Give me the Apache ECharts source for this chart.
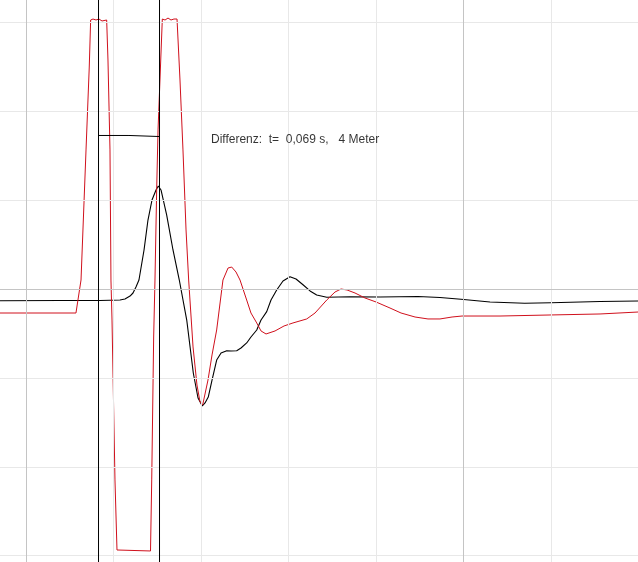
<!DOCTYPE html>
<html>
<head>
<meta charset="utf-8">
<script src="https://cdn.jsdelivr.net/npm/echarts@6/dist/echarts.min.js"></script>
<style>
html,body{margin:0;padding:0;background:#fff;}
#c{width:638px;height:562px;}
</style>
</head>
<body>
<div id="c"></div>
<script>
// time in seconds (0.1 s per division), amplitude in divisions
var redX = [-0.0297,0.0571,0.0629,0.0686,0.0723,0.0739,0.0766,0.0800,0.0834,0.0869,0.0891,0.0922,0.0937,0.0960,0.0971,0.0983,0.1000,0.1017,0.1040,0.1046,0.1423,0.1437,0.1459,0.1474,0.1494,0.1509,0.1531,0.1558,0.1589,0.1623,0.1657,0.1691,0.1726,0.1760,0.1794,0.1829,0.1859,0.1909,0.1954,0.1989,0.2019,0.2080,0.2126,0.2179,0.2251,0.2309,0.2351,0.2400,0.2446,0.2522,0.2571,0.2637,0.2686,0.2743,0.2846,0.2949,0.3051,0.3208,0.3303,0.3437,0.3531,0.3600,0.3669,0.3760,0.3874,0.4000,0.4160,0.4286,0.4446,0.4594,0.4731,0.4869,0.4983,0.5417,0.6000,0.6560,0.6994];
var redY = [-0.270,-0.270,0.101,1.564,2.497,3.026,3.037,3.026,3.037,3.015,3.037,3.026,2.576,1.564,0.101,-0.349,-1.249,-2.148,-2.936,-2.947,-2.947,-2.148,-0.540,0.101,1.147,1.789,2.351,3.037,3.026,3.048,3.026,3.037,3.037,2.351,1.564,0.664,0.101,-0.652,-1.080,-1.271,-1.305,-1.024,-0.742,-0.461,0.101,0.236,0.247,0.191,0.101,-0.124,-0.270,-0.382,-0.472,-0.506,-0.472,-0.416,-0.382,-0.337,-0.270,-0.124,-0.034,0.000,-0.011,-0.045,-0.101,-0.146,-0.214,-0.270,-0.315,-0.337,-0.337,-0.315,-0.304,-0.304,-0.292,-0.281,-0.259];
var blackX = [-0.0297,0.0389,0.0846,0.1074,0.1131,0.1189,0.1223,0.1257,0.1291,0.1349,0.1394,0.1440,0.1486,0.1512,0.1543,0.1608,0.1680,0.1752,0.1837,0.1912,0.1966,0.2015,0.2046,0.2083,0.2126,0.2179,0.2229,0.2294,0.2343,0.2408,0.2457,0.2522,0.2571,0.2637,0.2686,0.2751,0.2800,0.2865,0.2937,0.3017,0.3086,0.3169,0.3246,0.3322,0.3437,0.3703,0.4046,0.4480,0.4731,0.4971,0.5303,0.5699,0.6000,0.6560,0.6994];
var blackY = [-0.132,-0.129,-0.129,-0.124,-0.112,-0.079,-0.045,0.022,0.101,0.439,0.776,1.001,1.114,1.159,1.114,0.832,0.439,0.101,-0.349,-0.945,-1.226,-1.316,-1.282,-1.215,-1.024,-0.799,-0.720,-0.694,-0.697,-0.694,-0.664,-0.607,-0.540,-0.461,-0.349,-0.255,-0.124,-0.011,0.090,0.138,0.112,0.045,-0.022,-0.067,-0.093,-0.087,-0.090,-0.084,-0.096,-0.116,-0.146,-0.161,-0.154,-0.141,-0.135];
var cursorX = [0.0829, 0.1526];
var measureX = [0.0829, 0.1177, 0.1177, 0.1526];
var measureY = [1.727, 1.727, 1.715, 1.715];
var labelText = 'Differenz:  t=  0,069 s,   4 Meter';
var labelPos = [0.2114, 1.676];
var gridX = [0.1, 0.2, 0.3, 0.4, 0.6];
var gridXMajor = [0, 0.5];
var gridY = [-3, -2, -1, 1, 2, 3];
var gridYMajor = [0];
var xRange = [-0.0297, 0.6994];
var yRange = [-3.071, 3.251];

function pairs(xs, ys){ var o=[]; for(var i=0;i<xs.length;i++) o.push([xs[i], ys[i]]); return o; }
function vLines(xs){ return xs.map(function(v){ return {xAxis:v}; }); }
function hLines(ys){ return ys.map(function(v){ return {yAxis:v}; }); }

var chart = echarts.init(document.getElementById('c'), null, {renderer:'canvas'});
chart.setOption({
  animation:false,
  backgroundColor:'#ffffff',
  grid:{left:0, right:0, top:0, bottom:0, containLabel:false},
  xAxis:{type:'value', min:xRange[0], max:xRange[1],
    axisLine:{show:false}, axisTick:{show:false}, axisLabel:{show:false}, splitLine:{show:false}},
  yAxis:{type:'value', min:yRange[0], max:yRange[1],
    axisLine:{show:false}, axisTick:{show:false}, axisLabel:{show:false}, splitLine:{show:false}},
  series:[
    {type:'line', data:[], silent:true, z:1,
      markLine:{silent:true, symbol:'none', label:{show:false}, animation:false,
        lineStyle:{color:'#e8e8e8', width:1, type:'solid'},
        data:vLines(gridX).concat(hLines(gridY))}},
    {type:'line', data:[], silent:true, z:2,
      markLine:{silent:true, symbol:'none', label:{show:false}, animation:false,
        lineStyle:{color:'#c4c4c4', width:1, type:'solid'},
        data:vLines(gridXMajor).concat(hLines(gridYMajor))}},
    {type:'line', data:pairs(blackX, blackY), showSymbol:false, symbol:'none', lineStyle:{color:'#000000', width:1.1}, silent:true, z:3},
    {type:'line', data:pairs(redX, redY), showSymbol:false, symbol:'none', lineStyle:{color:'#d0101c', width:1}, silent:true, z:4},
    {type:'line', data:[[cursorX[0],yRange[0]],[cursorX[0],yRange[1]]], showSymbol:false, symbol:'none', lineStyle:{color:'#000', width:1}, silent:true, z:5},
    {type:'line', data:[[cursorX[1],yRange[0]],[cursorX[1],yRange[1]]], showSymbol:false, symbol:'none', lineStyle:{color:'#000', width:1}, silent:true, z:5},
    {type:'line', data:pairs(measureX, measureY), showSymbol:false, symbol:'none', lineStyle:{color:'#000', width:1}, silent:true, z:5},
    {type:'scatter', data:[labelPos], symbolSize:0, silent:true, z:6,
      label:{show:true, position:'right', distance:0, formatter:labelText, color:'#000', fontFamily:'Liberation Sans, Arial, sans-serif', fontSize:12}}
  ]
});
</script>
</body>
</html>
